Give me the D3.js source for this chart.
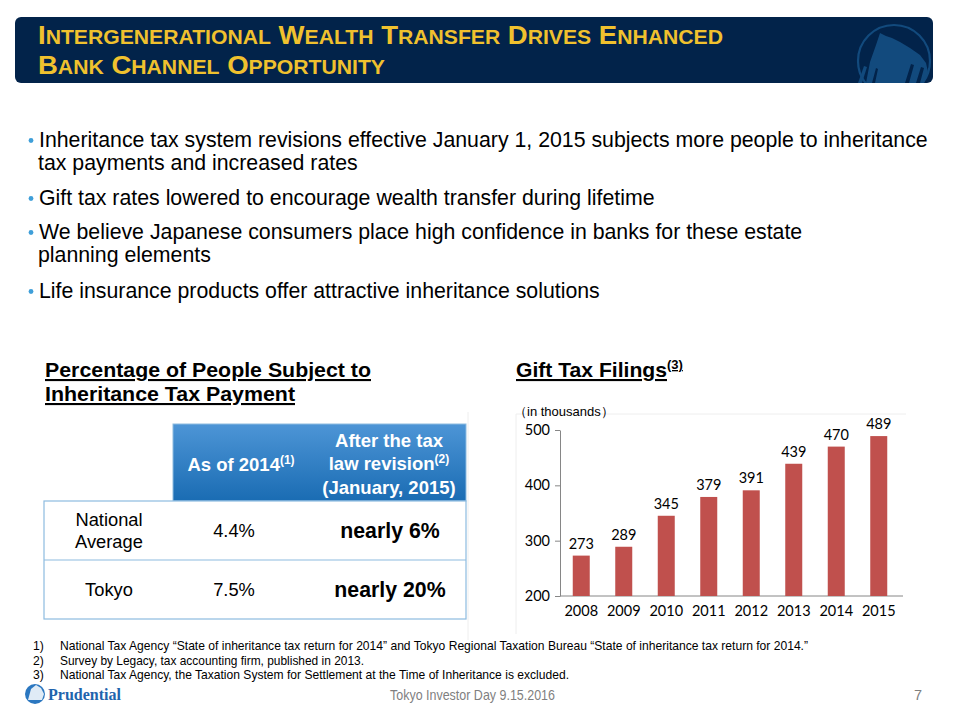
<!DOCTYPE html>
<html>
<head>
<meta charset="utf-8">
<script src="https://cdn.jsdelivr.net/npm/d3@7"></script>
<style>
  html, body { margin: 0; padding: 0; background: #fff; }
  svg { display: block; }
</style>
</head>
<body>
<svg id="chart" width="960" height="720"></svg>
<script>
// ---------- data ----------
const years = ["2008", "2009", "2010", "2011", "2012", "2013", "2014", "2015"];
const filings = [273, 289, 345, 379, 391, 439, 470, 489];
const yTicks = [200, 300, 400, 500];

const titleLines = ["Intergenerational Wealth Transfer Drives Enhanced", "Bank Channel Opportunity"];

const bullets = [
  ["Inheritance tax system revisions effective January 1, 2015 subjects more people to inheritance", "tax payments and increased rates"],
  ["Gift tax rates lowered to encourage wealth transfer during lifetime"],
  ["We believe Japanese consumers place high confidence in banks for these estate", "planning elements"],
  ["Life insurance products offer attractive inheritance solutions"]
];

const tableRows = ["National Average", "Tokyo"];
const asOf2014 = ["4.4%", "7.5%"];
const afterRevision = ["nearly 6%", "nearly 20%"];

const footnotes = [
  "National Tax Agency \u201cState of inheritance tax return for 2014\u201d and Tokyo Regional Taxation Bureau \u201cState of inheritance tax return for 2014.\u201d",
  "Survey by Legacy, tax accounting firm, published in 2013.",
  "National Tax Agency, the Taxation System for Settlement at the Time of Inheritance is excluded."
];

// ---------- drawing ----------
const svg = d3.select("#chart");
const defs = svg.append("defs");
const SANS = "'Liberation Sans', Arial, sans-serif";
const NARROW = "'Liberation Sans Narrow', 'Arial Narrow', 'Liberation Sans', Arial, sans-serif";
const CHARTFONT = "Lato, 'Open Sans', 'Noto Sans', sans-serif";

// Title banner
defs.append("clipPath").attr("id", "bannerClip")
  .append("rect").attr("x", 15).attr("y", 17).attr("width", 918).attr("height", 66).attr("rx", 6);
svg.append("rect").attr("x", 15).attr("y", 17).attr("width", 918).attr("height", 66)
  .attr("rx", 6).attr("fill", "#02234a");
const wm = svg.append("g").attr("clip-path", "url(#bannerClip)");
wm.append("circle").attr("cx", 894).attr("cy", 61).attr("r", 36)
  .attr("fill", "none").attr("stroke", "#124a7d").attr("stroke-width", 2.2);
wm.append("path")
  .attr("d", "M866,83 L870,62 L876,45 L880,33 L886,36 L892,38 L900,42 L910,48 L920,55 L926,63 L928,72 L924,83 Z")
  .attr("fill", "#124a7d");
wm.append("path")
  .attr("d", "M858,83 L864,66 L867,67 L862,83 Z")
  .attr("fill", "#124a7d");
wm.append("path")
  .attr("d", "M905,83 L911,64 L914,65 L909,83 Z M916,83 L921,67 L924,68 L920,83 Z M872,83 L876,68 L878,69 L875,83 Z")
  .attr("fill", "#02234a");

const titleWidths = [685, 347];
titleLines.forEach((line, li) => {
  const t = svg.append("text")
    .attr("x", 38).attr("y", 44 + li * 30)
    .attr("fill", "#f0c12e")
    .attr("font-family", NARROW)
    .attr("font-weight", "bold")
    .attr("textLength", titleWidths[li])
    .attr("lengthAdjust", "spacingAndGlyphs");
  line.split(" ").forEach((w, wi) => {
    t.append("tspan").attr("font-size", 26).text((wi > 0 ? " " : "") + w[0].toUpperCase());
    t.append("tspan").attr("font-size", 20).text(w.slice(1).toUpperCase());
  });
});

// Bullets
const bulletY = [147, 205, 239, 298];
bullets.forEach((b, i) => {
  svg.append("circle").attr("cx", 31).attr("cy", bulletY[i] - 6.5).attr("r", 2.4).attr("fill", "#3f9fd9");
  b.forEach((line, j) => {
    svg.append("text")
      .attr("x", j === 0 ? 39 : 38).attr("y", bulletY[i] + j * 23)
      .attr("font-family", SANS).attr("font-size", 21.3).attr("fill", "#000")
      .text(line);
  });
});

// Section headings (underlined)
function heading(x, y, txt, width, sup) {
  const t = svg.append("text").attr("x", x).attr("y", y)
    .attr("font-family", NARROW).attr("font-weight", "bold").attr("font-size", 21)
    .attr("text-decoration", "underline").attr("fill", "#000");
  t.append("tspan").text(txt).attr("textLength", width).attr("lengthAdjust", "spacingAndGlyphs");
  if (sup) t.append("tspan").attr("font-size", 13).attr("dy", -8).text(sup);
  return t;
}
heading(45, 377, "Percentage of People Subject to", 326);
heading(45, 401, "Inheritance Tax Payment", 250);
heading(516, 377, "Gift Tax Filings", 151, "(3)");

// Faint placeholder borders
svg.append("line").attr("x1", 468).attr("x2", 468).attr("y1", 412).attr("y2", 640).attr("stroke", "#eeeeee");
svg.append("line").attr("x1", 516).attr("x2", 906).attr("y1", 414).attr("y2", 414).attr("stroke", "#eeeeee");
svg.append("line").attr("x1", 516).attr("x2", 516).attr("y1", 414).attr("y2", 634).attr("stroke", "#eeeeee");

// Table
const grad = defs.append("linearGradient").attr("id", "hdrGrad").attr("x1", 0).attr("x2", 0).attr("y1", 0).attr("y2", 1);
grad.append("stop").attr("offset", "0%").attr("stop-color", "#4d95d6");
grad.append("stop").attr("offset", "100%").attr("stop-color", "#1a6cb3");

const tbl = { left: 44, c1: 173, c2: 320, right: 466, hTop: 424, hBot: 501, r1: 560, bot: 619 };
svg.append("rect").attr("x", tbl.c1).attr("y", tbl.hTop).attr("width", tbl.right - tbl.c1).attr("height", tbl.hBot - tbl.hTop)
  .attr("fill", "url(#hdrGrad)").attr("stroke", "#8dbbe0").attr("stroke-width", 1);
svg.append("rect").attr("x", tbl.left).attr("y", tbl.hBot).attr("width", tbl.right - tbl.left).attr("height", tbl.bot - tbl.hBot)
  .attr("fill", "#fff").attr("stroke", "#8dbbe0").attr("stroke-width", 1.2);
svg.append("line").attr("x1", tbl.left).attr("x2", tbl.right).attr("y1", tbl.r1).attr("y2", tbl.r1)
  .attr("stroke", "#8dbbe0").attr("stroke-width", 1.2);

const hdrFont = { "font-family": SANS, "font-weight": "bold", "font-size": 18.5, fill: "#fff", "text-anchor": "middle" };
function applyAttrs(sel, o) { Object.entries(o).forEach(([k, v]) => sel.attr(k, v)); return sel; }
const h1 = applyAttrs(svg.append("text"), hdrFont).attr("x", 241).attr("y", 471);
h1.append("tspan").text("As of 2014");
h1.append("tspan").attr("font-size", 12).attr("dy", -7).text("(1)");
const hx = 389;
applyAttrs(svg.append("text"), hdrFont).attr("x", hx).attr("y", 447).text("After the tax");
const h2 = applyAttrs(svg.append("text"), hdrFont).attr("x", hx).attr("y", 470);
h2.append("tspan").text("law revision");
h2.append("tspan").attr("font-size", 12).attr("dy", -7).text("(2)");
applyAttrs(svg.append("text"), hdrFont).attr("x", hx).attr("y", 494).text("(January, 2015)");

const rowMid = [(tbl.hBot + tbl.r1) / 2, (tbl.r1 + tbl.bot) / 2];
tableRows.forEach((r, i) => {
  const words = r.split(" ");
  const lines = words.length > 1 ? words : [r];
  lines.forEach((ln, j) => {
    svg.append("text").attr("x", 109).attr("y", rowMid[i] + 6 + (j - (lines.length - 1) / 2) * 22)
      .attr("text-anchor", "middle").attr("font-family", SANS).attr("font-size", 18.3).attr("fill", "#000").text(ln);
  });
  svg.append("text").attr("x", 234).attr("y", rowMid[i] + 6).attr("text-anchor", "middle")
    .attr("font-family", SANS).attr("font-size", 18.3).attr("fill", "#000").text(asOf2014[i]);
  svg.append("text").attr("x", 390).attr("y", rowMid[i] + 7).attr("text-anchor", "middle")
    .attr("font-family", SANS).attr("font-weight", "bold").attr("font-size", 21.3).attr("fill", "#000").text(afterRevision[i]);
});

// Bar chart
const x = d3.scaleBand().domain(years).range([560, 900]).paddingInner(0.6).paddingOuter(0.3);
const y = d3.scaleLinear().domain([200, 500]).range([596, 430]);

svg.append("text").attr("x", 514).attr("y", 416)
  .attr("font-family", NARROW).attr("font-size", 13).attr("fill", "#000").text("\uff08in thousands\uff09");

const yAxis = svg.append("g").attr("transform", "translate(560,0)")
  .call(d3.axisLeft(y).tickValues(yTicks).tickSize(5).tickPadding(5).tickSizeOuter(0));
yAxis.select(".domain").attr("stroke", "#868686");
yAxis.selectAll(".tick line").attr("stroke", "#868686");
yAxis.selectAll("text").attr("font-family", CHARTFONT).attr("font-size", 14.5).attr("fill", "#000");

const xAxis = svg.append("g").attr("transform", "translate(0,596)")
  .call(d3.axisBottom(x).tickSize(0).tickPadding(10).tickSizeOuter(0));
xAxis.select(".domain").attr("stroke", "#868686").attr("d", "M560,0H903");
xAxis.selectAll("text").attr("font-family", CHARTFONT).attr("font-size", 14.5).attr("fill", "#000");

svg.append("g").selectAll("rect").data(years).join("rect")
  .attr("x", d => x(d)).attr("width", x.bandwidth())
  .attr("y", (d, i) => y(filings[i])).attr("height", (d, i) => y(200) - y(filings[i]))
  .attr("fill", "#c0504d");

svg.append("g").selectAll("text").data(years).join("text")
  .attr("x", d => x(d) + x.bandwidth() / 2)
  .attr("y", (d, i) => y(filings[i]) - 7)
  .attr("text-anchor", "middle")
  .attr("font-family", CHARTFONT).attr("font-size", 14.5).attr("fill", "#000")
  .text((d, i) => filings[i]);

// Footnotes
const fnWidths = [748, 304, 509];
footnotes.forEach((f, i) => {
  const yy = 650 + i * 14.5;
  svg.append("text").attr("x", 33).attr("y", yy).attr("font-family", NARROW).attr("font-size", 12.2).attr("fill", "#000").text((i + 1) + ")");
  svg.append("text").attr("x", 60).attr("y", yy).attr("font-family", NARROW).attr("font-size", 12.2).attr("fill", "#000")
    .attr("textLength", fnWidths[i]).attr("lengthAdjust", "spacingAndGlyphs").text(f);
});

// Footer
const logo = svg.append("g");
logo.append("circle").attr("cx", 35).attr("cy", 694).attr("r", 10).attr("fill", "#2b77c0");
logo.append("path").attr("d", "M28,700 L31,689 L36,685 L41,688 L44,694 L42,700 Z").attr("fill", "#ffffff").attr("opacity", 0.85);
logo.append("text").attr("x", 48).attr("y", 700)
  .attr("font-family", "'Liberation Serif', 'DejaVu Serif', serif").attr("font-weight", "bold")
  .attr("font-size", 16).attr("fill", "#1f64ad").text("Prudential");

svg.append("text").attr("x", 390).attr("y", 700)
  .attr("font-family", NARROW).attr("font-size", 14.5).attr("fill", "#7f7f7f")
  .attr("textLength", 165).attr("lengthAdjust", "spacingAndGlyphs").text("Tokyo Investor Day 9.15.2016");
svg.append("text").attr("x", 918).attr("y", 700).attr("text-anchor", "middle")
  .attr("font-family", NARROW).attr("font-size", 14.5).attr("fill", "#7f7f7f").text("7");
</script>
</body>
</html>
